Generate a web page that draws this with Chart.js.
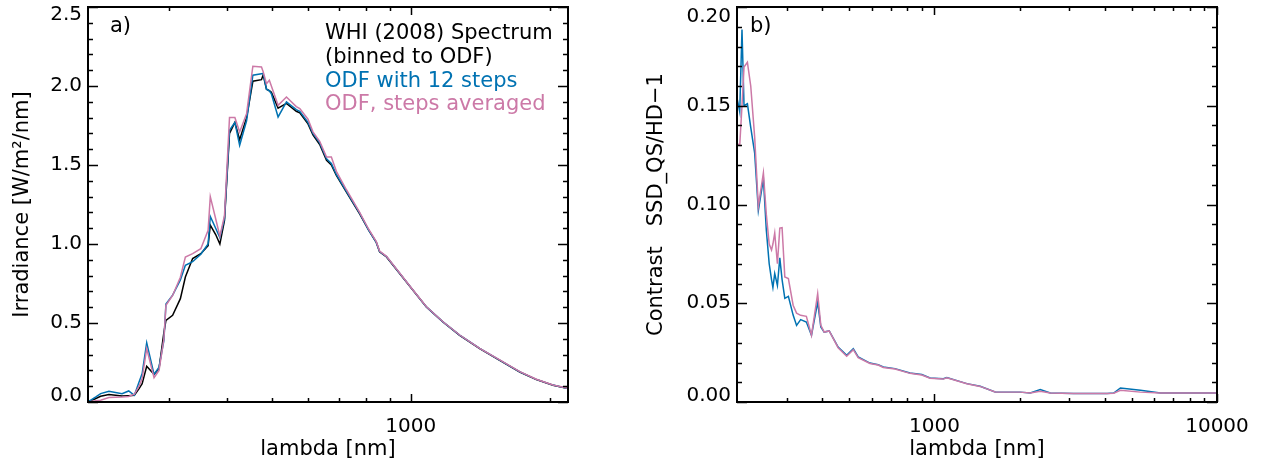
<!DOCTYPE html>
<html><head><meta charset="utf-8">
<script src="https://cdn.jsdelivr.net/npm/chart.js@4"></script>
<style>
html,body{margin:0;padding:0;background:#fff;}
#wrap{position:relative;width:1262px;height:465px;background:#fff;}
.panel{position:absolute;top:0;width:631px;height:465px;}
</style></head><body>
<div id="wrap">
<div class="panel" style="left:0"><canvas id="c1"></canvas></div>
<div class="panel" style="left:631px"><canvas id="c2"></canvas></div>
</div>
<script>
// ---------- Panel a) data ----------
const lambdaA = [200, 208, 213, 222, 237, 245, 252, 258, 262, 268, 278, 285, 292, 295, 305, 317, 325, 337, 351, 364, 368, 378, 386, 395, 405, 416, 426, 441, 455, 475, 479, 487, 494, 499, 516, 538, 565, 575, 599, 614, 635, 657, 673, 690, 725, 775, 810, 842, 856, 886, 946, 1011, 1081, 1174, 1276, 1410, 1558, 1722, 1870, 2032, 2190];
const whiA = [0.0, 0.022, 0.036, 0.047, 0.038, 0.040, 0.042, 0.085, 0.116, 0.226, 0.175, 0.211, 0.44, 0.517, 0.549, 0.654, 0.791, 0.908, 0.939, 0.99, 1.12, 1.06, 1.00, 1.15, 1.70, 1.77, 1.66, 1.80, 2.03, 2.04, 2.07, 1.98, 1.97, 1.96, 1.86, 1.89, 1.84, 1.83, 1.76, 1.69, 1.63, 1.53, 1.50, 1.435, 1.33, 1.19, 1.09, 1.01, 0.95, 0.918, 0.813, 0.707, 0.601, 0.506, 0.422, 0.338, 0.264, 0.190, 0.142, 0.106, 0.085];
const odf12A = [0.0, 0.032, 0.053, 0.068, 0.053, 0.070, 0.042, 0.127, 0.180, 0.375, 0.175, 0.22, 0.39, 0.62, 0.676, 0.772, 0.865, 0.888, 0.935, 1.0, 1.175, 1.10, 1.04, 1.16, 1.72, 1.77, 1.625, 1.78, 2.068, 2.078, 2.08, 1.98, 1.97, 1.95, 1.804, 1.90, 1.85, 1.84, 1.77, 1.70, 1.64, 1.54, 1.51, 1.44, 1.335, 1.195, 1.09, 1.01, 0.952, 0.92, 0.815, 0.708, 0.602, 0.507, 0.423, 0.339, 0.265, 0.191, 0.143, 0.107, 0.086];
const odfAvgA = [0.0, 0.008, 0.011, 0.028, 0.032, 0.035, 0.049, 0.10, 0.148, 0.338, 0.154, 0.20, 0.40, 0.612, 0.674, 0.79, 0.918, 0.939, 0.97, 1.087, 1.30, 1.16, 1.05, 1.18, 1.80, 1.80, 1.709, 1.825, 2.125, 2.12, 2.09, 2.015, 2.036, 2.00, 1.878, 1.93, 1.87, 1.857, 1.79, 1.71, 1.65, 1.55, 1.55, 1.46, 1.345, 1.20, 1.095, 1.015, 0.955, 0.922, 0.817, 0.709, 0.603, 0.508, 0.424, 0.34, 0.266, 0.192, 0.144, 0.108, 0.087];

// ---------- Panel b) data ----------
const lambdaB = [200, 204.5, 208.3, 211.8, 217.7, 223.7, 231, 238, 248, 254, 260, 265, 268, 272, 278, 283.5, 288.8, 295.3, 304, 316, 325, 336, 352, 367, 386, 396, 407, 424, 456, 489, 516, 537, 591, 632, 659, 725, 819, 902, 965, 1075, 1106, 1302, 1451, 1640, 2011, 2182, 2368, 2570, 3108, 4082, 4309, 4552, 5358, 6308, 9750, 10000];
const odf12B = [0.154, 0.147, 0.1886, 0.150, 0.151, 0.139, 0.126, 0.097, 0.113, 0.087, 0.070, 0.062, 0.058, 0.065, 0.059, 0.073, 0.062, 0.0525, 0.0535, 0.044, 0.0388, 0.0417, 0.0405, 0.0338, 0.0506, 0.038, 0.0354, 0.036, 0.0278, 0.0236, 0.027, 0.0228, 0.0197, 0.0189, 0.0177, 0.0169, 0.0147, 0.0139, 0.0122, 0.0118, 0.0124, 0.0093, 0.008, 0.0051, 0.005, 0.0046, 0.0063, 0.0046, 0.0043, 0.0043, 0.0045, 0.0071, 0.0059, 0.0046, 0.0046, 0.0046];
const odfAvgB = [0.131, 0.130, 0.150, 0.1696, 0.172, 0.160, 0.134, 0.099, 0.116, 0.095, 0.080, 0.077, 0.080, 0.0856, 0.070, 0.088, 0.0883, 0.0633, 0.0625, 0.049, 0.045, 0.0439, 0.0434, 0.0338, 0.0549, 0.0388, 0.0354, 0.036, 0.0275, 0.0232, 0.0265, 0.0225, 0.0195, 0.0187, 0.0175, 0.0167, 0.0145, 0.0137, 0.012, 0.0116, 0.0122, 0.0092, 0.0079, 0.0051, 0.005, 0.0046, 0.0054, 0.0046, 0.0043, 0.0043, 0.0044, 0.0059, 0.005, 0.0046, 0.0046, 0.0046];

// ---------- Ticks ----------
const xLabelsA = [1000];
const xMinorA = [300, 400, 500, 600, 700, 800, 900, 2000];
const yLabelsA = [0, 0.5, 1.0, 1.5, 2.0, 2.5];
const yMinorA = [0.1,0.2,0.3,0.4,0.6,0.7,0.8,0.9,1.1,1.2,1.3,1.4,1.6,1.7,1.8,1.9,2.1,2.2,2.3,2.4];
const xLabelsB = [1000, 10000];
const xMinorB = [300, 400, 500, 600, 700, 800, 900, 2000, 3000, 4000, 5000, 6000, 7000, 8000, 9000];
const yLabelsB = [0, 0.05, 0.10, 0.15, 0.20];
const yMinorB = [0.01,0.02,0.03,0.04,0.06,0.07,0.08,0.09,0.11,0.12,0.13,0.14,0.16,0.17,0.18,0.19];

const legendLines = ['WHI (2008) Spectrum', '(binned to ODF)', 'ODF with 12 steps', 'ODF, steps averaged'];
const BLACK = '#000000', BLUE = '#0072B2', PINK = '#CC79A7';
const FONT = 'DejaVu Sans';
const WEIGHT = 'normal';

const framePlugin = {
  id: 'frame',
  afterDraw(chart, args, opts) {
    const {ctx, chartArea: a} = chart;
    const x = chart.scales.x, y = chart.scales.y;
    ctx.save();
    ctx.strokeStyle = '#000';
    ctx.lineWidth = 1.5;
    ctx.beginPath();
    const xt = (vals, len) => vals.forEach(v => {
      const px = Math.round(x.getPixelForValue(v)) + 0.5;
      ctx.moveTo(px, a.bottom); ctx.lineTo(px, a.bottom - len);
      ctx.moveTo(px, a.top); ctx.lineTo(px, a.top + len);
    });
    const yt = (vals, len) => vals.forEach(v => {
      const py = Math.round(y.getPixelForValue(v)) + 0.5;
      ctx.moveTo(a.left, py); ctx.lineTo(a.left + len, py);
      ctx.moveTo(a.right, py); ctx.lineTo(a.right - len, py);
    });
    xt(opts.xMajor, 8); xt(opts.xMinor, 4);
    yt(opts.yMajor, 10); yt(opts.yMinor, 5);
    ctx.stroke();
    ctx.lineWidth = 2;
    ctx.strokeRect(a.left, a.top, a.right - a.left, a.bottom - a.top);
    ctx.textAlign = 'left';
    ctx.textBaseline = 'alphabetic';
    (opts.texts || []).forEach(t => {
      ctx.font = t.font; ctx.fillStyle = t.color;
      ctx.fillText(t.text, t.x, t.y);
    });
    ctx.restore();
  }
};

function makeSeries(lams, vals) { return lams.map((l, i) => ({x: l, y: vals[i]})); }

function buildChart(canvasId, cfg) {
  const n = cfg.yLabels.length;
  return new Chart(document.getElementById(canvasId), {
    type: 'line',
    data: { datasets: cfg.datasets },
    plugins: [framePlugin],
    options: {
      responsive: true, maintainAspectRatio: false, animation: false,
      layout: { padding: { left: 0, right: cfg.padRight, top: 7, bottom: 0 } },
      elements: { point: { radius: 0 }, line: { tension: 0, fill: false } },
      plugins: {
        legend: { display: false }, tooltip: { enabled: false },
        frame: { xMajor: cfg.xLabels, xMinor: cfg.xMinor, yMajor: cfg.yLabels, yMinor: cfg.yMinor, texts: cfg.texts }
      },
      scales: {
        x: {
          type: 'logarithmic', position: 'bottom', min: cfg.xMin, max: cfg.xMax,
          grid: { display: false, drawTicks: false }, border: { display: false },
          afterBuildTicks: s => { s.ticks = cfg.xLabels.map(v => ({ value: v })); },
          afterFit: s => { s.height = 63; s.paddingLeft = 0; s.paddingRight = 0; },
          ticks: { autoSkip: false, maxRotation: 0, minRotation: 0, padding: 13, color: '#000',
            font: { family: FONT, size: 20, weight: WEIGHT }, callback: v => String(v) },
          title: { display: true, text: 'lambda [nm]', color: '#000',
            font: { family: FONT, size: 21, weight: WEIGHT }, padding: { top: 0, bottom: 3 } }
        },
        y: {
          type: 'linear', position: 'left', min: cfg.yMin, max: cfg.yMax,
          grid: { display: false, drawTicks: false }, border: { display: false },
          afterBuildTicks: s => { s.ticks = cfg.yLabels.map(v => ({ value: v })); },
          afterFit: s => { s.width = cfg.yWidth; s.paddingTop = 0; s.paddingBottom = 0; },
          ticks: { autoSkip: false, padding: 6, color: '#000',
            font: c => ({ family: FONT, size: 20, weight: WEIGHT,
              lineHeight: c.index === n - 1 ? cfg.topLH : (c.index === 0 ? cfg.botLH : 1.2) }),
            callback: (v, i) => {
              const s = v.toFixed(cfg.dec);
              if (i === n - 1) return ['', s];
              if (i === 0) return [s, ''];
              return s;
            } },
          title: { display: true, text: cfg.yTitle, color: '#000',
            font: { family: FONT, size: 21, weight: WEIGHT }, padding: { top: cfg.yTitlePad, bottom: 0 } }
        }
      }
    }
  });
}

const TF = WEIGHT + ' 21px "' + FONT + '"';

buildChart('c1', {
  datasets: [
    { label: 'WHI (2008) Spectrum', data: makeSeries(lambdaA, whiA), borderColor: BLACK, borderWidth: 1.5, order: 2 },
    { label: 'ODF with 12 steps', data: makeSeries(lambdaA, odf12A), borderColor: BLUE, borderWidth: 1.5, order: 1 },
    { label: 'ODF, steps averaged', data: makeSeries(lambdaA, odfAvgA), borderColor: PINK, borderWidth: 1.5, order: 0 }
  ],
  xMin: 200, xMax: 2190, yMin: 0, yMax: 2.5, dec: 1,
  xLabels: xLabelsA, xMinor: xMinorA, yLabels: yLabelsA, yMinor: yMinorA,
  padRight: 63, yWidth: 88, topLH: 0.8, botLH: 0.6,
  yTitle: 'Irradiance [W/m\u00B2/nm]', yTitlePad: 10,
  texts: [
    { text: 'a)', x: 110, y: 31.5, font: TF, color: BLACK },
    { text: legendLines[0], x: 325, y: 39, font: TF, color: BLACK },
    { text: legendLines[1], x: 325, y: 62.7, font: TF, color: BLACK },
    { text: legendLines[2], x: 325, y: 86.7, font: TF, color: BLUE },
    { text: legendLines[3], x: 325, y: 110, font: TF, color: PINK }
  ]
});

buildChart('c2', {
  datasets: [
    { label: 'ODF with 12 steps', data: makeSeries(lambdaB, odf12B), borderColor: BLUE, borderWidth: 1.5, order: 1 },
    { label: 'ODF, steps averaged', data: makeSeries(lambdaB, odfAvgB), borderColor: PINK, borderWidth: 1.5, order: 0 }
  ],
  xMin: 200, xMax: 10000, yMin: 0, yMax: 0.2, dec: 2,
  xLabels: xLabelsB, xMinor: xMinorB, yLabels: yLabelsB, yMinor: yMinorB,
  padRight: 45, yWidth: 106, topLH: 1.0, botLH: 0.6,
  yTitle: 'Contrast   SSD_QS/HD\u22121', yTitlePad: 13,
  texts: [
    { text: 'b)', x: 119, y: 31.5, font: TF, color: BLACK }
  ]
});
</script>
</body></html>
